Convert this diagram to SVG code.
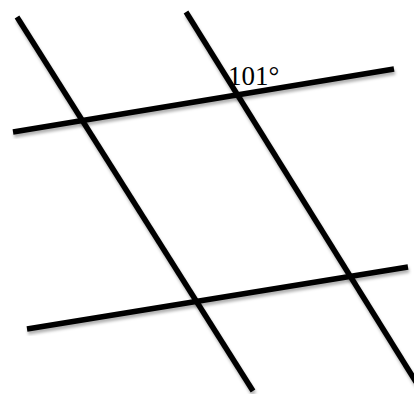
<svg xmlns="http://www.w3.org/2000/svg" width="414" height="394" viewBox="0 0 414 394">
  <defs>
    <filter id="shadow" x="-10%" y="-10%" width="120%" height="120%">
      <feDropShadow dx="1" dy="3" stdDeviation="1.5" flood-color="#000" flood-opacity="0.3"/>
    </filter>
    <style>
      .ln { stroke: #000; stroke-width: 5.5; stroke-linecap: butt; fill: none; filter: url(#shadow); }
      .lbl { font-family: "Liberation Serif", "DejaVu Serif", serif; font-size: 27px; fill: #000; }
    </style>
  </defs>
  <rect width="414" height="394" fill="#fff"/>
  <g id="lines">
    <line id="lineA" class="ln" x1="17" y1="17" x2="253" y2="391"/>
    <line id="lineB" class="ln" x1="186" y1="12" x2="416" y2="382"/>
    <line id="lineC" class="ln" x1="13" y1="132" x2="394" y2="69"/>
    <line id="lineD" class="ln" x1="27" y1="329" x2="408" y2="267"/>
  </g>
  <g id="angle-label">
    <text class="lbl" x="228" y="85">101°</text>
  </g>
</svg>
